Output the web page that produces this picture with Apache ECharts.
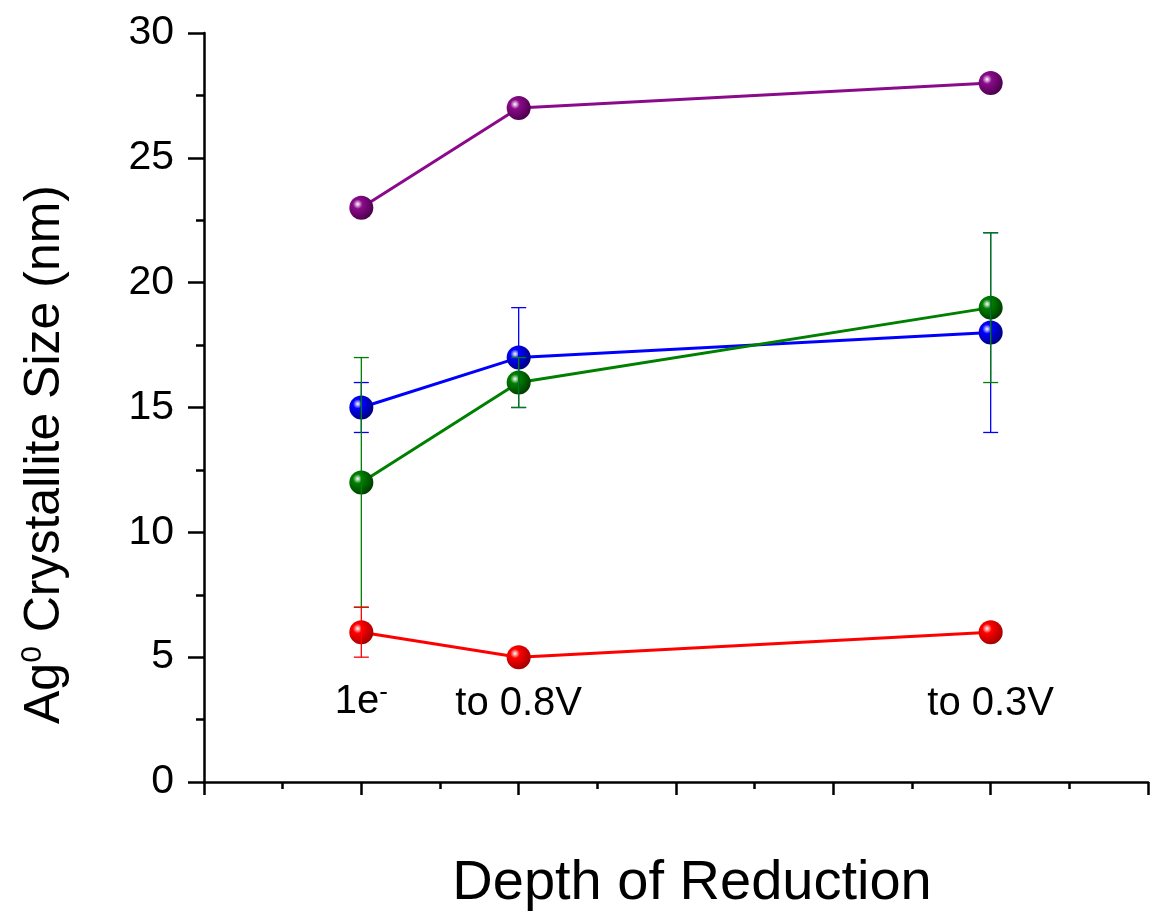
<!DOCTYPE html>
<html lang="en">
<head>
	<meta charset="UTF-8">
	<title>Ag crystallite size</title>
	<script type="text/javascript" src="https://cdn.jsdelivr.net/npm/echarts@6/dist/echarts.min.js"></script>
</head>
<body style="margin:0;background:#fff;">
<div id="chart" style="width: 1151px;height: 917px"></div>

<script type="text/javascript">
    // positions of the three reduction stages on the x axis
    var stageX = [1, 2, 5];
    var stageLabels = ['1e{sup|-}', 'to 0.8V', 'to 0.3V'];

    // crystallite sizes (nm)
    var purpleVals = [23, 27, 28];
    var blueVals = [15, 17, 18];
    var greenVals = [12, 16, 19];
    var redVals = [6, 5, 6];

    // error bars: [x, low, high]
    var blueErr = [[1, 14, 16], [2, 15, 19], [5, 14, 22]];
    var greenErr = [[1, 7, 17], [2, 15, 17], [5, 16, 22]];
    var redErr = [[1, 5, 7]];

    var font = 'Liberation Sans, Arial, sans-serif';

    var pair = function(vals){
        var res = [];
        for (var i = 0; i < vals.length; i++) res.push([stageX[i], vals[i]]);
        return res;
    };

    // shaded ball look for the markers
    var ball = function(base, dark){
        return {
            type: 'radial', x: 0.35, y: 0.35, r: 0.7,
            colorStops: [
                {offset: 0, color: '#ffffff'},
                {offset: 0.28, color: base},
                {offset: 1, color: dark}
            ]
        };
    };

    var lineSeries = function(name, vals, base, dark){
        return {
            name: name,
            type: 'line',
            data: pair(vals),
            symbol: 'circle',
            symbolSize: 24,
            lineStyle: {color: base, width: 3},
            itemStyle: {color: ball(base, dark), borderWidth: 0},
            z: 3
        };
    };

    var errSeries = function(data, color){
        return {
            type: 'custom',
            data: data,
            encode: {x: 0, y: [1, 2]},
            z: 4,
            silent: true,
            renderItem: function(params, api){
                var x = api.value(0);
                var lo = api.coord([x, api.value(1)]);
                var hi = api.coord([x, api.value(2)]);
                var w = 7.5;
                var st = {stroke: color, lineWidth: 1.3};
                return {
                    type: 'group',
                    children: [
                        {type: 'line', shape: {x1: lo[0], y1: lo[1], x2: hi[0], y2: hi[1]}, style: st},
                        {type: 'line', shape: {x1: lo[0] - w, y1: lo[1], x2: lo[0] + w, y2: lo[1]}, style: st},
                        {type: 'line', shape: {x1: hi[0] - w, y1: hi[1], x2: hi[0] + w, y2: hi[1]}, style: st}
                    ]
                };
            }
        };
    };

    var chart = echarts.init(document.getElementById('chart'));

    var option = {
        animation: false,
        grid: {left: 204, right: 0, top: 33, bottom: 134},
        xAxis: {
            type: 'value',
            min: 0,
            max: 6,
            interval: 1,
            name: 'Depth of Reduction',
            nameLocation: 'middle',
            nameGap: 74,
            nameTextStyle: {fontSize: 56, color: '#000', fontFamily: font, padding: [0, 0, 0, 32]},
            splitLine: {show: false},
            axisLine: {lineStyle: {color: '#000', width: 2.5}},
            axisTick: {show: true, inside: false, length: 13, lineStyle: {color: '#000', width: 2.5}},
            minorTick: {show: true, splitNumber: 2, length: 7, lineStyle: {color: '#000', width: 2.5}},
            axisLabel: {
                inside: true,
                margin: 58,
                fontSize: 40,
                color: '#000',
                fontFamily: font,
                showMinLabel: true,
                showMaxLabel: true,
                formatter: function(v){
                    var i = stageX.indexOf(v);
                    return i >= 0 ? stageLabels[i] : '';
                },
                rich: {
                    sup: {fontSize: 26, verticalAlign: 'top', padding: [0, 0, 18, 0], color: '#000', fontFamily: font}
                }
            }
        },
        yAxis: {
            type: 'value',
            min: 0,
            max: 30,
            interval: 5,
            name: 'Ag{sup|0} Crystallite Size (nm)',
            nameLocation: 'middle',
            nameGap: 132,
            nameTextStyle: {
                fontSize: 50, color: '#000', fontFamily: font, padding: [0, 94, 0, 0],
                rich: {sup: {fontSize: 30, verticalAlign: 'top', padding: [0, 0, 24, 0], color: '#000', fontFamily: font}}
            },
            splitLine: {show: false},
            axisLine: {show: true, lineStyle: {color: '#000', width: 2.5}},
            axisTick: {show: true, inside: false, length: 16, lineStyle: {color: '#000', width: 2.5}},
            minorTick: {show: true, splitNumber: 2, length: 8, lineStyle: {color: '#000', width: 2.5}},
            axisLabel: {margin: 30, fontSize: 41, color: '#000', fontFamily: font}
        },
        series: [
            lineSeries('purple', purpleVals, '#8b0a8b', '#4a004a'),
            lineSeries('blue', blueVals, '#0000ff', '#00007a'),
            lineSeries('green', greenVals, '#008000', '#003a00'),
            lineSeries('red', redVals, '#ff0000', '#a00000'),
            errSeries(blueErr, '#0000ff'),
            errSeries(greenErr, '#008000'),
            errSeries(redErr, '#ff0000')
        ]
    };

    chart.setOption(option);
</script>
</body>
</html>
